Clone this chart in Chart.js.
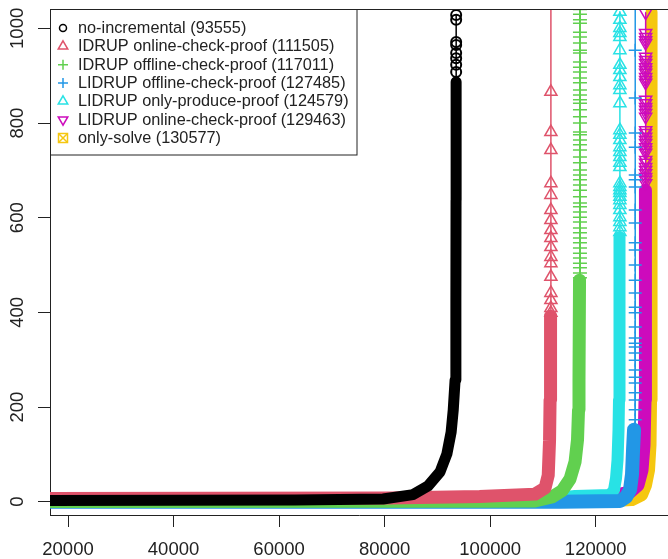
<!DOCTYPE html>
<html>
<head>
<meta charset="utf-8">
<script src="https://cdn.jsdelivr.net/npm/chart.js@4.4.0/dist/chart.umd.min.js"></script>
<style>
  html, body { margin: 0; padding: 0; background: #fff; }
  canvas { display: block; }
</style>
</head>
<body>
<canvas id="cactus" width="668" height="559"></canvas>
<script>
const seriesNames = [
  'no-incremental',
  'IDRUP online-check-proof',
  'IDRUP offline-check-proof',
  'LIDRUP offline-check-proof',
  'LIDRUP only-produce-proof',
  'LIDRUP online-check-proof',
  'only-solve'
];
const solvedCounts = [93555, 111505, 117011, 127485, 124579, 129463, 130577];
const seriesColors = ['#000000', '#DF536B', '#61D04F', '#2297E6', '#28E2E5', '#CD0BBC', '#F5C710'];
const xTicks = [20000, 40000, 60000, 80000, 100000, 120000];
const yTicks = [0, 200, 400, 600, 800, 1000];

// dense part of each curve, where the markers overlap into a solid band: [solved, seconds]
const noIncBand = [[16000, 2.5], [63000, 3.6], [79700, 5.7], [85400, 15], [88200, 33], [90500, 63],
  [91800, 101], [92600, 147], [93000, 194], [93350, 257], [93500, 426], [93530, 637], [93545, 887]];
const idrupOnBand = [[16000, 7], [81000, 8], [98000, 11], [108500, 16], [110400, 29], [111000, 56],
  [111250, 130], [111350, 215], [111430, 362], [111450, 392]];
const idrupOffBand = [[16000, 0.5], [100000, 1], [108500, 1.5], [111720, 10], [113610, 23], [115130, 48],
  [116080, 84], [116550, 131], [116740, 194], [116830, 257], [116930, 468]];
const lidrupOffBand = [[16000, 0], [113230, 0], [124600, 1.5], [125740, 10], [126500, 25], [126880, 58],
  [127070, 109], [127260, 152]];
const lidrupProdBand = [[16000, 1.5], [109440, 3.6], [116080, 12], [122710, 14], [123470, 25], [123850, 50],
  [124130, 88], [124320, 152], [124410, 215], [124500, 426], [124510, 559]];
const lidrupOnBand = [[16000, 1.5], [117020, 3.6], [123650, 14], [126500, 20], [128010, 35], [128770, 67],
  [129150, 120], [129340, 215], [129400, 426], [129440, 658]];
const onlySolveBand = [[16000, 0], [120810, 0], [126880, 3.6], [128770, 14], [129530, 35], [130100, 67],
  [130380, 120], [130480, 215], [130577, 426], [130577, 849], [130577, 1034]];

// sparse markers on the vertical tail (seconds), all at the series' solved count
const noIncMarks = [908, 923, 937, 948, 965, 971, 1018, 1028];
const idrupOnMarks = [399, 409, 426, 441, 475, 504, 517, 538, 557, 574, 595, 616, 648, 673, 743, 781, 866, 1100];
const idrupOffMarks = [473, 483, 494, 504, 515, 525, 536, 547, 557, 568, 578, 591, 601, 612, 623, 631,
  644, 658, 669, 680, 690, 701, 716, 728, 743, 754, 764, 775, 781, 800, 813, 828, 842, 849, 859, 870,
  885, 895, 908, 918, 929, 948, 954, 969, 982, 992, 1011, 1018, 1030, 1040];
const lidrupOffMarks = [173, 194, 215, 230, 251, 263, 278, 299, 314, 327, 335, 346, 369, 399, 411, 441,
  468, 500, 532, 547, 589, 616, 665, 680, 690, 749, 779, 853, 954, 1100];
const lidrupProdMarks = [570, 580, 591, 601, 616, 627, 637, 644, 652, 658, 665, 673, 707, 716, 728, 739,
  749, 764, 775, 785, 842, 870, 880, 897, 912, 923, 954, 982, 990, 1001, 1018, 1035];
const lidrupOnMarks = [673, 680, 686, 694, 701, 707, 716, 722, 737, 743, 749, 758, 764, 771, 779, 785,
  813, 821, 828, 834, 842, 849, 885, 891, 897, 906, 912, 918, 927, 933, 940, 969, 975, 982, 990, 1033];
const onlySolveMarks = [];

const bands = [noIncBand, idrupOnBand, idrupOffBand, lidrupOffBand, lidrupProdBand, lidrupOnBand, onlySolveBand];
const marks = [noIncMarks, idrupOnMarks, idrupOffMarks, lidrupOffMarks, lidrupProdMarks, lidrupOnMarks, onlySolveMarks];

const FONT = '"Liberation Sans", Arial, Helvetica, sans-serif';
const INK = '#222';

function boxCross(color) {
  const c = document.createElement('canvas');
  c.width = 12; c.height = 12;
  const g = c.getContext('2d');
  g.strokeStyle = color; g.lineWidth = 1.5;
  g.strokeRect(1.5, 1.5, 9, 9);
  g.beginPath();
  g.moveTo(1.5, 1.5); g.lineTo(10.5, 10.5);
  g.moveTo(10.5, 1.5); g.lineTo(1.5, 10.5);
  g.stroke();
  return c;
}

const pointStyles = ['circle', 'triangle', 'cross', 'cross', 'triangle', 'triangle', boxCross(seriesColors[6])];
const pointRotations = [0, 0, 0, 0, 0, 180, 0];
const markRadius = [5, 7, 7, 6.5, 7, 7, 6];
const legendRadius = [3.5, 5.5, 5, 5, 5.5, 5.5, 4];
const bandWidths = [11, 13, 13, 14, 12, 13, 12];

const datasets = seriesNames.map((name, i) => {
  const nBand = bands[i].length;
  const data = bands[i].map(([x, y]) => ({x, y}))
    .concat(marks[i].map(y => ({x: solvedCounts[i], y})));
  return {
    label: `${name} (${solvedCounts[i]})`,
    data,
    borderColor: seriesColors[i],
    backgroundColor: 'rgba(0,0,0,0)',
    pointBorderColor: seriesColors[i],
    pointBackgroundColor: 'rgba(0,0,0,0)',
    pointStyle: pointStyles[i],
    pointRotation: pointRotations[i],
    pointRadius: c => c.dataIndex < nBand ? 0 : markRadius[i],
    pointBorderWidth: i === 0 ? 2 : 1.5,
    borderWidth: 1.5,
    borderCapStyle: 'round',
    borderJoinStyle: 'round',
    segment: { borderWidth: c => c.p1DataIndex < nBand ? bandWidths[i] : 1.5 },
    tension: 0,
    fill: false,
    clip: 0
  };
});

const frameAndLegend = {
  id: 'frameAndLegend',
  afterDraw(chart) {
    const {ctx, chartArea} = chart;
    const yScale = chart.scales.y;
    ctx.save();
    // top edge of the box
    ctx.strokeStyle = INK;
    ctx.lineWidth = 1;
    ctx.beginPath();
    ctx.moveTo(chartArea.left, chartArea.top + 0.5);
    ctx.lineTo(chartArea.right, chartArea.top + 0.5);
    ctx.stroke();

    // rotated y tick labels
    ctx.fillStyle = INK;
    ctx.font = `18.5px ${FONT}`;
    ctx.textAlign = 'center';
    ctx.textBaseline = 'middle';
    yTicks.forEach(v => {
      ctx.save();
      ctx.translate(17.5, yScale.getPixelForValue(v));
      ctx.rotate(-Math.PI / 2);
      ctx.fillText(String(v), 0, 0);
      ctx.restore();
    });

    // legend box
    const left = chartArea.left + 0.5, top = chartArea.top + 0.5;
    ctx.fillStyle = '#fff';
    ctx.fillRect(left, top, 306.5, 145.5);
    ctx.strokeRect(left, top, 306.5, 145.5);
    ctx.font = `16.3px ${FONT}`;
    ctx.textAlign = 'left';
    chart.data.datasets.forEach((ds, i) => {
      const y = top + 18.5 + i * 18.33;
      ctx.strokeStyle = seriesColors[i];
      ctx.fillStyle = 'rgba(0,0,0,0)';
      ctx.lineWidth = 1.5;
      if (Chart.helpers && Chart.helpers.drawPoint) {
        Chart.helpers.drawPoint(ctx, {
          pointStyle: pointStyles[i], radius: legendRadius[i],
          rotation: pointRotations[i], borderWidth: 1.5
        }, left + 12.5, y);
      }
      ctx.fillStyle = INK;
      ctx.fillText(ds.label, left + 27.5, y + 0.5);
    });
    ctx.restore();
  }
};

const axisGrid = { drawOnChartArea: false, drawTicks: true, tickLength: 12, color: INK, lineWidth: 1 };

new Chart(document.getElementById('cactus'), {
  type: 'line',
  data: { datasets },
  options: {
    responsive: false,
    devicePixelRatio: 1,
    animation: false,
    events: [],
    layout: { autoPadding: false, padding: { top: 9, right: 0, bottom: 0, left: 0 } },
    plugins: { legend: { display: false }, tooltip: { enabled: false } },
    scales: {
      x: {
        type: 'linear',
        min: 16589,
        max: 133695,
        afterBuildTicks: s => { s.ticks = xTicks.map(v => ({value: v})); },
        afterFit: s => {
          s.height = 44;
          s.paddingLeft = 0; s.paddingRight = 0;
        },
        grid: axisGrid,
        border: { display: true, color: INK, width: 1 },
        ticks: {
          autoSkip: false, maxRotation: 0, padding: 12, color: INK,
          font: { size: 18.5, family: FONT },
          callback: v => String(v)
        }
      },
      y: {
        type: 'linear',
        min: -28.1,
        max: 1040.9,
        afterBuildTicks: s => { s.ticks = yTicks.map(v => ({value: v})); },
        afterFit: s => {
          s.width = 50;
          s.paddingTop = 0; s.paddingBottom = 0;
        },
        grid: axisGrid,
        border: { display: true, color: INK, width: 1 },
        ticks: { display: false }
      }
    }
  },
  plugins: [frameAndLegend]
});
</script>
</body>
</html>
